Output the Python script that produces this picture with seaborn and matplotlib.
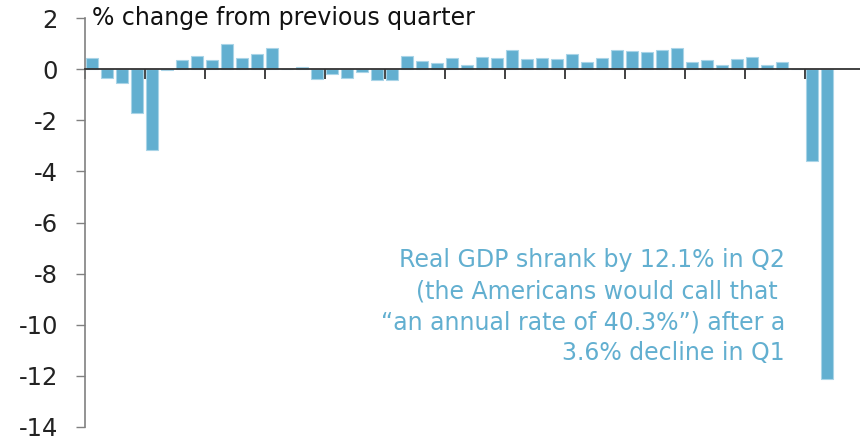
import matplotlib
matplotlib.use("Agg")
import matplotlib.pyplot as plt
import seaborn as sns
import pandas as pd

years = list(range(2008, 2021))
growth = [
    0.44, -0.34, -0.56, -1.73,   # 2008
    -3.16, -0.05, 0.35, 0.51,    # 2009
    0.36, 0.98, 0.42, 0.61,      # 2010
    0.82, 0.00, 0.08, -0.39,     # 2011
    -0.21, -0.33, -0.10, -0.43,  # 2012
    -0.42, 0.52, 0.30, 0.23,     # 2013
    0.44, 0.16, 0.46, 0.42,      # 2014
    0.74, 0.39, 0.43, 0.39,      # 2015
    0.59, 0.26, 0.43, 0.74,      # 2016
    0.70, 0.66, 0.74, 0.82,      # 2017
    0.26, 0.34, 0.18, 0.39,      # 2018
    0.47, 0.18, 0.27, 0.01,      # 2019
    -3.59, -12.12,               # 2020
]
quarters = [f"{y}Q{q}" for y in years for q in range(1, 5)][:len(growth)]
y_ticks = [2, 0, -2, -4, -6, -8, -10, -12, -14]
title_text = "% change from previous quarter"
note_text = ("Real GDP shrank by 12.1% in Q2\n"
             "(the Americans would call that \n"
             "\u201can annual rate of 40.3%\u201d) after a\n"
             "3.6% decline in Q1")

BAR = "#62afd0"
df = pd.DataFrame({"quarter": quarters, "growth": growth})

sns.set_theme(style="white")
plt.rcParams["font.family"] = ["DejaVu Sans"]

fig = plt.figure(figsize=(8.6, 4.42), dpi=100)
ax = fig.add_axes([85/860, 15/442, 775/860, 409/442])

sns.barplot(data=df, x="quarter", y="growth", color=BAR, saturation=1,
            width=0.8, edgecolor="#a9d4e7", linewidth=0.8, ax=ax, zorder=2)

ax.set_ylim(-14, 2)
ax.set_xlim(-0.5, len(growth) + 1.17)
ax.set_yticks(y_ticks)
ax.set_yticklabels([str(t) for t in y_ticks], fontsize=17.5, color="#222222")
ax.set_xticks([-0.5 + 4 * k for k in range(len(years))])
ax.set_xticklabels([])
ax.set_xlabel("")
ax.set_ylabel("")

for s in ["top", "right"]:
    ax.spines[s].set_visible(False)
ax.spines["left"].set_color("#808080")
ax.spines["left"].set_linewidth(1.2)
ax.spines["bottom"].set_position(("data", 0))
ax.spines["bottom"].set_color("#333333")
ax.spines["bottom"].set_linewidth(1.3)
ax.spines["bottom"].set_zorder(3)

ax.tick_params(axis="y", direction="out", length=6.5, width=1.0,
               color="#808080", pad=13, left=True)
ax.tick_params(axis="x", direction="out", length=7, width=1.3,
               color="#333333", bottom=True)

ax.text(-0.03, 1.72, title_text, fontsize=17, color="#111111",
        ha="left", va="baseline", clip_on=False)

ax.text(46.17, -7.0, note_text, fontsize=17, color=BAR,
        ha="right", va="top", multialignment="right", linespacing=1.37)

fig.savefig("out.png", dpi=100)
